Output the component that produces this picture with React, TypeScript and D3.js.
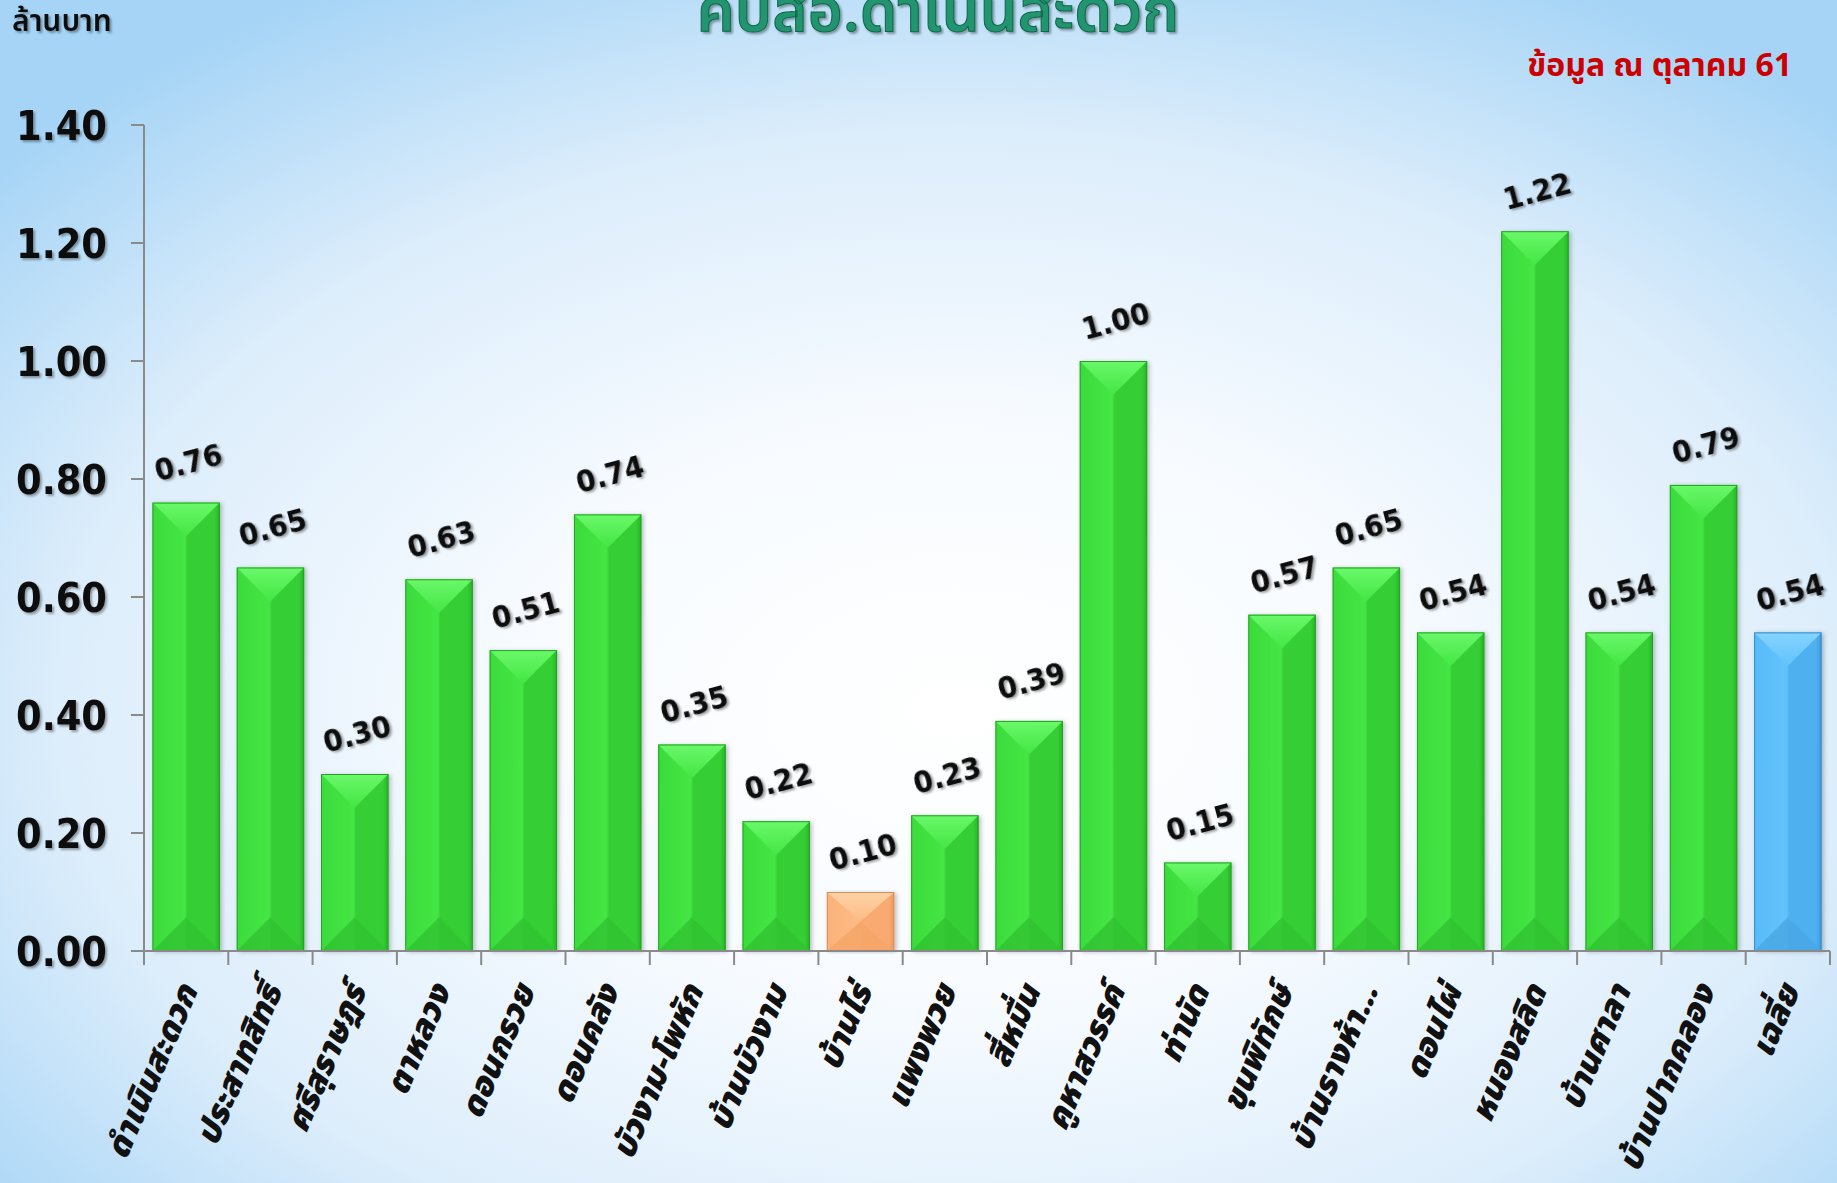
import React, { useEffect, useRef } from 'react';
import * as d3 from 'd3';

const categories = [
  'ดำเนินสะดวก',
  'ประสาทสิทธิ์',
  'ศรีสุราษฎร์',
  'ตาหลวง',
  'ดอนกรวย',
  'ดอนคลัง',
  'บัวงาม-โพหัก',
  'บ้านบัวงาม',
  'บ้านไร่',
  'แพงพวย',
  'สี่หมื่น',
  'คูหาสวรรค์',
  'ท่านัด',
  'ขุนพิทักษ์',
  'บ้านรางห้า…',
  'ดอนไผ่',
  'หนองสลิด',
  'บ้านศาลา',
  'บ้านปากคลอง',
  'เฉลี่ย',
];
const values = [0.76, 0.65, 0.3, 0.63, 0.51, 0.74, 0.35, 0.22, 0.1, 0.23, 0.39, 1.0, 0.15, 0.57, 0.65, 0.54, 1.22, 0.54, 0.79, 0.54];
const yTicks = [0, 0.2, 0.4, 0.6, 0.8, 1.0, 1.2, 1.4];
const averageLabel = 'เฉลี่ย';

const title = 'คปสอ.ดำเนินสะดวก';
const unitLabel = 'ล้านบาท';
const noteLabel = 'ข้อมูล ณ ตุลาคม 61';

const W = 1837;
const H = 1183;
const NUM_FONT = "'DejaVu Sans Condensed', 'DejaVu Sans', Tahoma, sans-serif";
const THAI_FONT = "Tahoma, 'Noto Sans Thai', 'Noto Sans', sans-serif";

const palettes: Record<string, { hi: string; base: string; mid: string; dark: string; top: string; bottom: string; edge: string }> = {
  green: { hi: '#44e644', base: '#3cdb3c', mid: '#35cf35', dark: '#28b128', top: '#6af86a', bottom: '#31c231', edge: '#24a424' },
  orange: { hi: '#fdbb85', base: '#fbb27a', mid: '#f8aa70', dark: '#ec9a5c', top: '#fed3a6', bottom: '#f5a566', edge: '#d98d55' },
  blue: { hi: '#62c2fb', base: '#58bbf9', mid: '#4fb0f0', dark: '#3f98d6', top: '#84d4ff', bottom: '#4aa6e4', edge: '#3a8cc8' },
};

const App = () => {
  const ref = useRef<SVGSVGElement>(null);

  useEffect(() => {
    if (!ref.current) return;
    const svg = d3.select(ref.current);
    svg.selectAll('*').remove();
    const defs = svg.append('defs');

    // background
    const bg = defs
      .append('radialGradient')
      .attr('id', 'bg')
      .attr('cx', 0.52)
      .attr('cy', 0.6)
      .attr('r', 0.7);
    bg.append('stop').attr('offset', '0%').attr('stop-color', '#ffffff');
    bg.append('stop').attr('offset', '35%').attr('stop-color', '#f7fbff');
    bg.append('stop').attr('offset', '70%').attr('stop-color', '#dcedfb');
    bg.append('stop').attr('offset', '100%').attr('stop-color', '#a5d4f6');
    svg.append('rect').attr('width', W).attr('height', H).attr('fill', 'url(#bg)');

    const shadow = defs.append('filter').attr('id', 'tshadow').attr('x', '-20%').attr('y', '-20%').attr('width', '140%').attr('height', '140%');
    shadow
      .append('feDropShadow')
      .attr('dx', 2)
      .attr('dy', 2)
      .attr('stdDeviation', 1.2)
      .attr('flood-color', '#000')
      .attr('flood-opacity', 0.35);

    const barShadow = defs.append('filter').attr('id', 'bshadow').attr('x', '-20%').attr('y', '-5%').attr('width', '140%').attr('height', '110%');
    barShadow
      .append('feDropShadow')
      .attr('dx', 2)
      .attr('dy', 1)
      .attr('stdDeviation', 2)
      .attr('flood-color', '#000')
      .attr('flood-opacity', 0.25);

    Object.entries(palettes).forEach(([k, p]) => {
      const g = defs.append('linearGradient').attr('id', `side-${k}`).attr('x1', 0).attr('x2', 1).attr('y1', 0).attr('y2', 0);
      g.append('stop').attr('offset', '0%').attr('stop-color', p.base);
      g.append('stop').attr('offset', '48%').attr('stop-color', p.hi);
      g.append('stop').attr('offset', '52%').attr('stop-color', p.mid);
      g.append('stop').attr('offset', '92%').attr('stop-color', p.mid);
      g.append('stop').attr('offset', '100%').attr('stop-color', p.dark);
      const t = defs.append('linearGradient').attr('id', `top-${k}`).attr('x1', 0).attr('x2', 0).attr('y1', 0).attr('y2', 1);
      t.append('stop').attr('offset', '0%').attr('stop-color', p.top);
      t.append('stop').attr('offset', '100%').attr('stop-color', p.hi);
    });

    const x = d3
      .scaleBand<string>()
      .domain(categories)
      .range([144, 1830])
      .paddingInner(0.2)
      .paddingOuter(0.1);
    const y = d3.scaleLinear().domain([0, 1.4]).range([951, 125]);
    const step = x.step();
    const bw = x.bandwidth();
    const minVal = d3.min(values) as number;

    const kindOf = (c: string, v: number) => (c === averageLabel ? 'blue' : v === minVal ? 'orange' : 'green');

    // bars
    const bars = svg
      .append('g')
      .selectAll('g')
      .data(categories.map((c, i) => ({ c, v: values[i] })))
      .join('g')
      .attr('filter', 'url(#bshadow)');

    bars.each(function (d) {
      const g = d3.select(this);
      const k = kindOf(d.c, d.v);
      const p = palettes[k];
      const x0 = x(d.c) as number;
      const x1 = x0 + bw;
      const yt = y(d.v);
      const yb = y(0);
      const cx = x0 + bw / 2;
      const depth = Math.min(bw / 2, (yb - yt) / 2);
      g.append('rect')
        .attr('x', x0)
        .attr('y', yt)
        .attr('width', bw)
        .attr('height', yb - yt)
        .attr('fill', `url(#side-${k})`);
      g.append('path')
        .attr('d', `M${x0},${yt}L${x1},${yt}L${cx},${yt + depth}Z`)
        .attr('fill', `url(#top-${k})`);
      g.append('path')
        .attr('d', `M${x0},${yb}L${x1},${yb}L${cx},${yb - depth}Z`)
        .attr('fill', p.bottom)
        .attr('opacity', 0.8);
      g.append('rect')
        .attr('x', x0 + 0.5)
        .attr('y', yt + 0.5)
        .attr('width', bw - 1)
        .attr('height', yb - yt - 1)
        .attr('fill', 'none')
        .attr('stroke', p.edge)
        .attr('stroke-width', 1);
    });

    // axes
    const axisColor = '#8a8a8a';
    const ax = svg.append('g');
    ax.append('line').attr('x1', 144).attr('x2', 144).attr('y1', y(1.4)).attr('y2', y(0)).attr('stroke', axisColor).attr('stroke-width', 2);
    ax.append('line').attr('x1', 144).attr('x2', 1830).attr('y1', y(0)).attr('y2', y(0)).attr('stroke', axisColor).attr('stroke-width', 2);
    ax.selectAll('.yt')
      .data(yTicks)
      .join('line')
      .attr('x1', 131)
      .attr('x2', 144)
      .attr('y1', (d) => y(d))
      .attr('y2', (d) => y(d))
      .attr('stroke', axisColor)
      .attr('stroke-width', 2);
    const bounds = categories.map((c) => (x(c) as number) - (step - bw) / 2).concat([(x(categories[categories.length - 1]) as number) + bw + (step - bw) / 2]);
    ax.selectAll('.xt')
      .data(bounds)
      .join('line')
      .attr('x1', (d) => d)
      .attr('x2', (d) => d)
      .attr('y1', y(0))
      .attr('y2', y(0) + 14)
      .attr('stroke', axisColor)
      .attr('stroke-width', 2);

    // y tick labels
    svg
      .append('g')
      .selectAll('text')
      .data(yTicks)
      .join('text')
      .attr('x', 107)
      .attr('y', (d) => y(d))
      .attr('dy', '0.36em')
      .attr('text-anchor', 'end')
      .attr('font-family', NUM_FONT)
      .attr('font-weight', 'bold')
      .attr('font-size', 41)
      .attr('fill', '#111')
      .attr('filter', 'url(#tshadow)')
      .text((d) => d3.format('.2f')(d));

    // value labels
    svg
      .append('g')
      .selectAll('text')
      .data(categories.map((c, i) => ({ c, v: values[i] })))
      .join('text')
      .attr('transform', (d) => `translate(${(x(d.c) as number) + bw / 2 + 5},${y(d.v) - 30}) rotate(-15)`)
      .attr('text-anchor', 'middle')
      .attr('font-family', NUM_FONT)
      .attr('font-weight', 'bold')
      .attr('font-size', 31)
      .attr('fill', '#111')
      .attr('filter', 'url(#tshadow)')
      .text((d) => d3.format('.2f')(d.v));

    // category labels
    svg
      .append('g')
      .selectAll('text')
      .data(categories)
      .join('text')
      .attr('transform', (d) => `translate(${(x(d) as number) + bw / 2 + 12},${y(0) + 40}) rotate(-67)`)
      .attr('text-anchor', 'end')
      .attr('font-family', THAI_FONT)
      .attr('font-weight', 900)
      .attr('font-style', 'italic')
      .attr('font-size', 33)
      .attr('fill', '#111')
      .text((d) => d);

    // title + annotations
    svg
      .append('text')
      .attr('x', 938)
      .attr('y', 31)
      .attr('text-anchor', 'middle')
      .attr('font-family', THAI_FONT)
      .attr('font-weight', 600)
      .attr('font-size', 60)
      .attr('fill', '#21956f')
      .attr('stroke', '#0f6648')
      .attr('stroke-width', 1)
      .attr('filter', 'url(#tshadow)')
      .text(title);

    svg
      .append('text')
      .attr('x', 12)
      .attr('y', 31)
      .attr('font-family', THAI_FONT)
      .attr('font-weight', 600)
      .attr('font-size', 30)
      .attr('fill', '#111')
      .attr('filter', 'url(#tshadow)')
      .text(unitLabel);

    svg
      .append('text')
      .attr('x', 1792)
      .attr('y', 76)
      .attr('text-anchor', 'end')
      .attr('font-family', THAI_FONT)
      .attr('font-weight', 'bold')
      .attr('font-size', 32)
      .attr('fill', '#cc0000')
      .text(noteLabel);
  }, []);

  return <svg ref={ref} width={W} height={H} style={{ position: 'absolute', left: 0, top: 0, display: 'block' }} />;
};

export default App;
